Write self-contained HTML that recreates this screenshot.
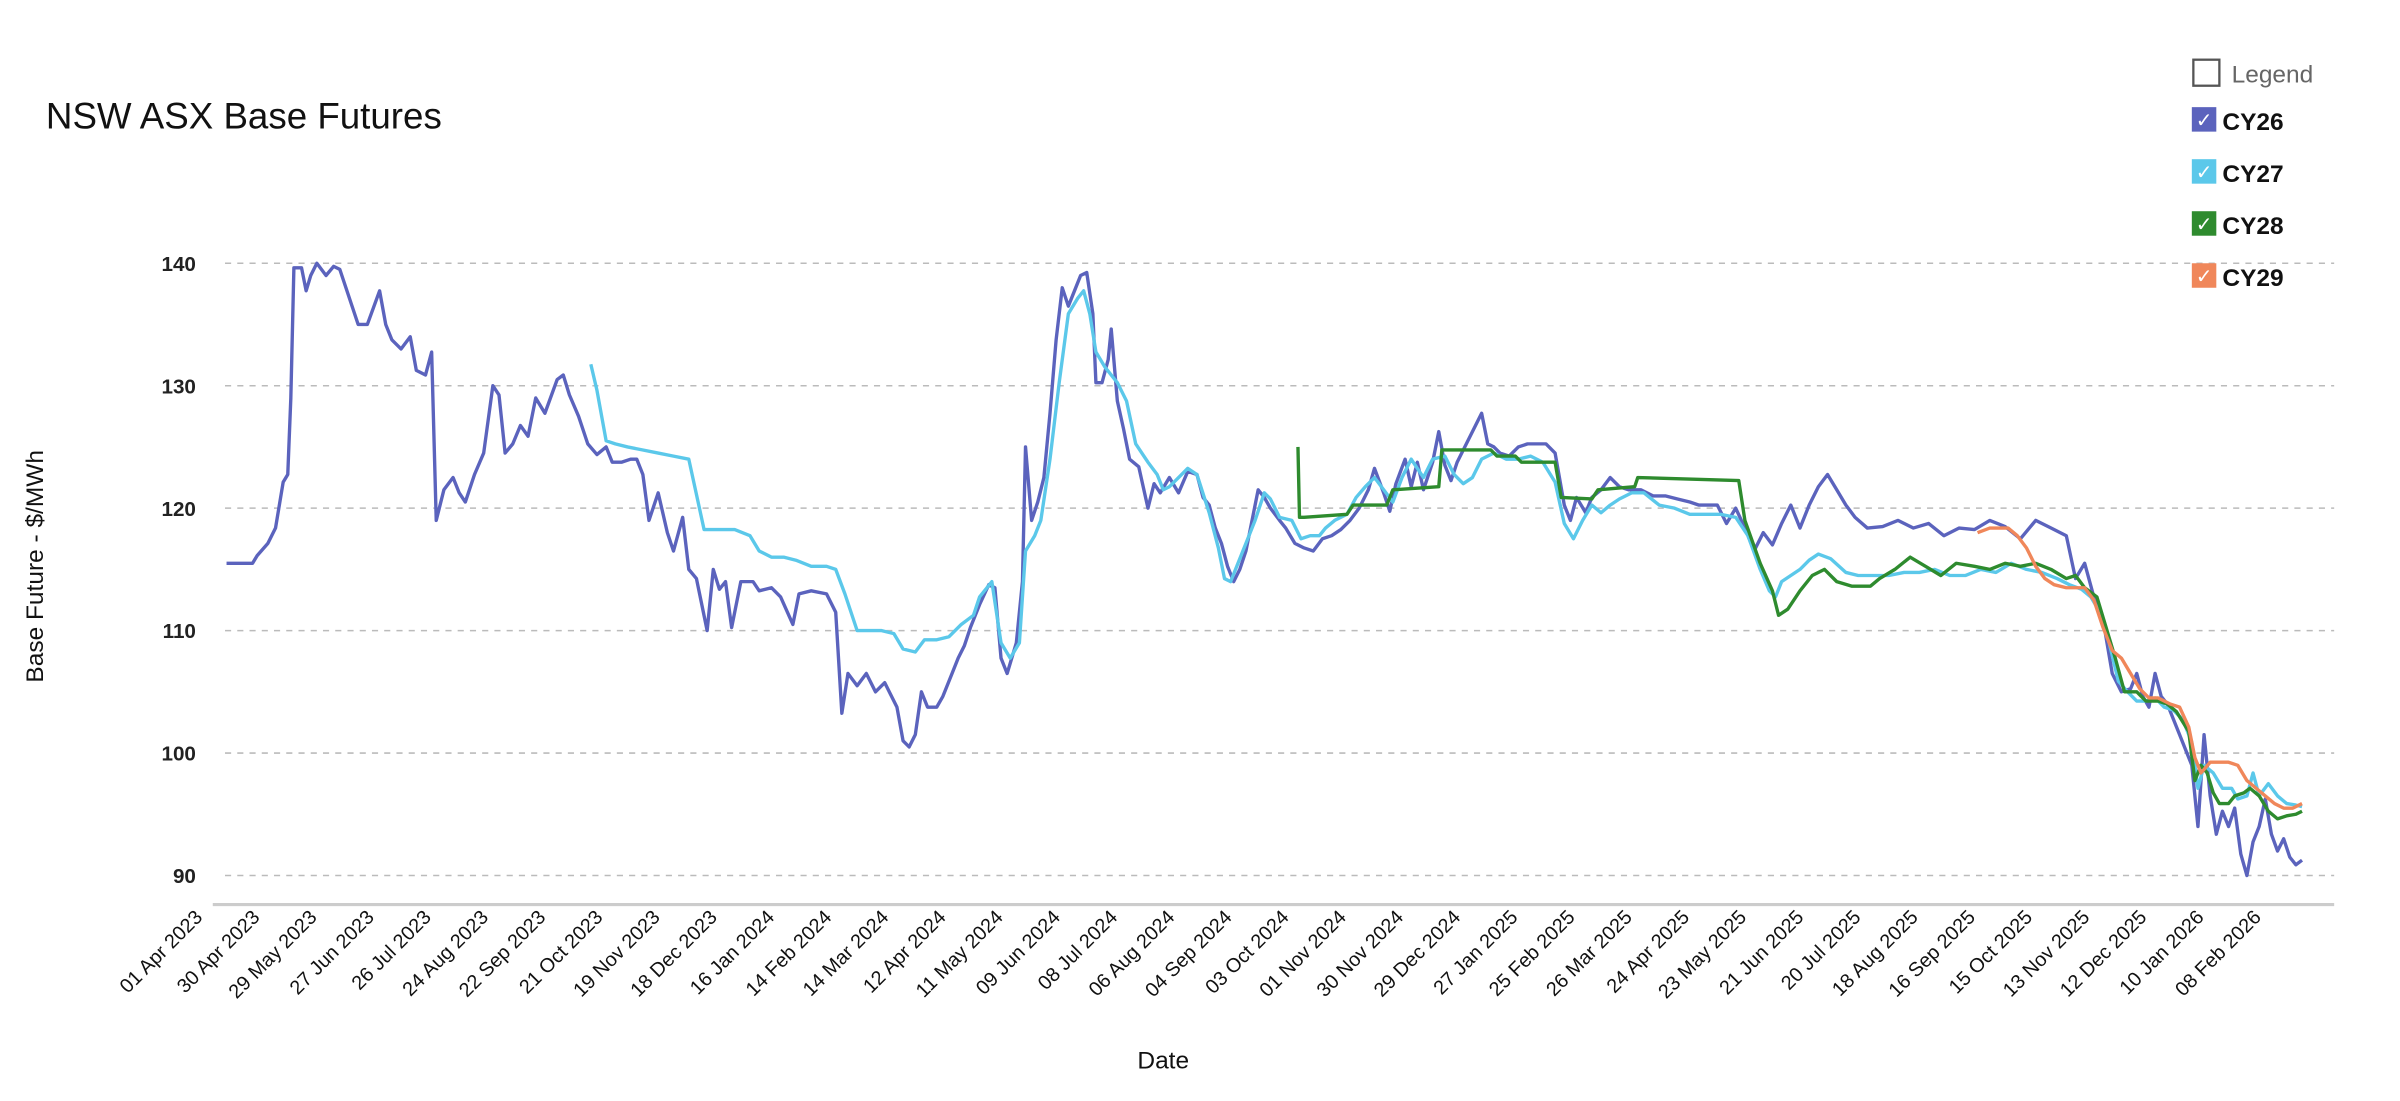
<!DOCTYPE html>
<html><head><meta charset="utf-8"><style>
html,body{margin:0;padding:0;background:#fff;}
svg{display:block;font-family:"Liberation Sans",sans-serif;}
</style></head><body>
<svg width="2400" height="1101" viewBox="0 0 1568 719.33" xmlns="http://www.w3.org/2000/svg">
<rect width="1568" height="720" fill="#fff"/>
<text x="30" y="84" font-size="24" fill="#111">NSW ASX Base Futures</text>
<g stroke="#bbb" stroke-width="1" stroke-dasharray="4,4">
<line x1="147" y1="172" x2="1525" y2="172"/><line x1="147" y1="252" x2="1525" y2="252"/>
<line x1="147" y1="332" x2="1525" y2="332"/><line x1="147" y1="412" x2="1525" y2="412"/>
<line x1="147" y1="492" x2="1525" y2="492"/><line x1="147" y1="572" x2="1525" y2="572"/>
</g>
<line x1="139" y1="591" x2="1525" y2="591" stroke="#ccc" stroke-width="2"/>
<g font-size="13.5" font-weight="bold" fill="#222" text-anchor="end">
<text x="128" y="177">140</text><text x="128" y="257">130</text><text x="128" y="337">120</text>
<text x="128" y="417">110</text><text x="128" y="497">100</text><text x="128" y="577">90</text>
</g>
<text transform="translate(28,370) rotate(-90)" font-size="16" text-anchor="middle" fill="#111">Base Future -  $/MWh</text>
<text x="760" y="698" font-size="16" text-anchor="middle" fill="#111">Date</text>
<g fill="none" stroke-width="2.2" stroke-linejoin="round">
<polyline stroke="#5b63bd" points="148,368 165,368 168,363 175,355 180,345 185,315 188,310 190,260 192,175 197,175 200,190 203,180 207,172 213,180 218,174 222,176 226,188 230,200 234,212 240,212 248,190 252,212 256,222 262,228 268,220 272,242 278,245 282,230 285,340 290,320 296,312 300,322 304,328 310,310 316,296 322,252 326,258 330,296 335,290 340,278 345,285 350,260 356,270 364,248 368,245 372,258 378,272 384,290 390,297 396,292 400,302 406,302 412,300 416,300 420,310 424,340 430,322 436,348 440,360 446,338 450,372 455,378 462,412 466,372 470,385 474,380 478,410 484,380 492,380 496,386 504,384 510,390 518,408 522,388 530,386 540,388 546,400 550,466 554,440 560,448 566,440 572,452 578,446 586,462 590,484 594,488 598,480 602,452 606,462 612,462 616,455 622,440 626,430 630,422 634,410 640,395 646,382 650,384 654,430 658,440 664,420 668,380 670,292 674,340 678,328 682,312 686,270 690,222 694,188 698,200 702,190 706,180 710,178 714,205 716,250 720,250 724,235 726,215 730,262 734,280 738,300 744,305 750,332 754,316 758,322 764,312 770,322 776,308 782,310 786,325 790,330 794,345 798,355 802,370 806,380 810,372 814,360 818,340 822,320 826,325 830,332 836,340 840,345 846,355 852,358 858,360 864,352 870,350 876,346 882,340 888,332 894,320 898,306 904,322 908,334 912,316 918,300 922,318 926,302 930,320 936,302 940,282 944,304 948,314 952,302 958,290 964,278 968,270 972,290 976,292 980,296 986,298 992,292 998,290 1004,290 1010,290 1016,296 1022,330 1026,340 1030,325 1036,335 1040,325 1046,320 1052,312 1058,318 1064,320 1072,320 1080,324 1088,324 1096,326 1104,328 1110,330 1116,330 1122,330 1128,342 1134,332 1140,345 1146,360 1152,348 1158,356 1164,342 1170,330 1176,345 1182,330 1188,318 1194,310 1200,320 1206,330 1212,338 1220,345 1230,344 1240,340 1250,345 1260,342 1270,350 1280,345 1290,346 1300,340 1310,344 1320,352 1330,340 1340,345 1350,350 1356,378 1362,368 1368,390 1374,405 1380,440 1386,452 1392,450 1396,440 1400,455 1404,462 1408,440 1412,455 1416,460 1420,470 1424,480 1428,490 1432,500 1436,540 1440,480 1444,520 1448,545 1452,530 1456,540 1460,528 1464,558 1468,572 1472,550 1476,540 1480,522 1484,545 1488,556 1492,548 1496,560 1500,565 1504,562"/>
<polyline stroke="#5bc8ea" points="386,238 390,255 396,288 402,290 410,292 420,294 430,296 440,298 450,300 460,346 470,346 480,346 490,350 496,360 504,364 512,364 520,366 530,370 540,370 546,372 552,388 560,412 568,412 576,412 584,414 590,424 598,426 604,418 612,418 620,416 628,408 636,402 640,390 648,380 654,420 660,430 666,420 670,360 676,350 680,340 686,300 692,250 698,205 704,195 708,190 712,205 716,230 722,240 730,250 736,262 742,290 750,302 756,310 760,320 764,318 770,312 776,306 782,310 790,335 796,358 800,378 804,380 808,370 814,355 820,340 826,322 830,326 836,338 844,340 850,352 856,350 862,350 866,345 872,340 880,336 886,325 892,318 898,312 904,320 910,328 916,312 922,300 930,312 936,300 944,298 950,310 956,316 962,312 968,300 976,296 984,300 992,300 1000,298 1008,302 1016,315 1022,342 1028,352 1034,340 1040,330 1046,335 1052,330 1058,326 1066,322 1074,322 1084,330 1094,332 1104,336 1114,336 1124,336 1134,338 1142,350 1150,372 1156,386 1160,390 1164,380 1170,376 1176,372 1182,366 1188,362 1196,365 1206,374 1214,376 1224,376 1234,376 1244,374 1254,374 1264,372 1274,376 1284,376 1294,372 1304,374 1314,368 1324,372 1334,374 1344,378 1352,382 1360,385 1366,390 1372,400 1378,420 1384,445 1390,452 1396,458 1402,458 1408,456 1414,462 1420,464 1426,470 1432,485 1436,515 1440,500 1446,505 1452,515 1458,515 1462,522 1468,520 1472,505 1476,520 1482,512 1488,520 1494,525 1500,526 1504,527"/>
<polyline stroke="#2e8b2e" points="848,292 849,338 852,338 880,336 884,330 906,330 910,320 940,318 942,294 974,294 978,298 990,298 994,302 1016,302 1020,325 1040,326 1044,320 1068,318 1070,312 1136,314 1140,340 1150,368 1158,386 1162,402 1168,398 1176,386 1184,376 1192,372 1200,380 1210,383 1222,383 1228,378 1238,372 1248,364 1258,370 1268,376 1278,368 1290,370 1300,372 1310,368 1320,370 1330,368 1340,372 1350,378 1356,376 1362,384 1370,390 1376,410 1382,430 1388,452 1396,452 1402,458 1410,458 1416,460 1422,465 1430,478 1434,510 1438,500 1442,505 1446,518 1450,525 1456,525 1460,520 1466,518 1470,515 1476,520 1482,530 1488,535 1494,533 1500,532 1504,530"/>
<polyline stroke="#f0875a" points="1292,348 1300,345 1312,345 1318,350 1324,358 1330,370 1336,378 1342,382 1350,384 1356,384 1362,384 1368,392 1374,410 1380,425 1386,430 1392,440 1398,450 1404,456 1410,456 1418,460 1424,462 1430,475 1434,495 1438,505 1444,498 1450,498 1456,498 1462,500 1468,510 1474,515 1480,520 1486,525 1492,528 1498,528 1504,525"/>
</g>
<g font-size="16">
<rect x="1433" y="39" width="17" height="17" fill="none" stroke="#555" stroke-width="1.5"/>
<text x="1458" y="54" fill="#666">Legend</text>
<rect x="1432" y="70" width="16" height="16" fill="#5b63bd"/><text x="1440" y="83" font-size="13" fill="#fff" text-anchor="middle">✓</text><text x="1452" y="85" fill="#111" font-weight="bold">CY26</text>
<rect x="1432" y="104" width="16" height="16" fill="#5bc8ea"/><text x="1440" y="117" font-size="13" fill="#fff" text-anchor="middle">✓</text><text x="1452" y="119" fill="#111" font-weight="bold">CY27</text>
<rect x="1432" y="138" width="16" height="16" fill="#2e8b2e"/><text x="1440" y="151" font-size="13" fill="#fff" text-anchor="middle">✓</text><text x="1452" y="153" fill="#111" font-weight="bold">CY28</text>
<rect x="1432" y="172" width="16" height="16" fill="#f0875a"/><text x="1440" y="185" font-size="13" fill="#fff" text-anchor="middle">✓</text><text x="1452" y="187" fill="#111" font-weight="bold">CY29</text>
</g>
<g font-size="13" fill="#111" text-anchor="end">
<text transform="translate(133,600) rotate(-45)">01 Apr 2023</text>
<text transform="translate(170.4,600) rotate(-45)">30 Apr 2023</text>
<text transform="translate(207.7,600) rotate(-45)">29 May 2023</text>
<text transform="translate(245.1,600) rotate(-45)">27 Jun 2023</text>
<text transform="translate(282.4,600) rotate(-45)">26 Jul 2023</text>
<text transform="translate(319.8,600) rotate(-45)">24 Aug 2023</text>
<text transform="translate(357.2,600) rotate(-45)">22 Sep 2023</text>
<text transform="translate(394.5,600) rotate(-45)">21 Oct 2023</text>
<text transform="translate(431.9,600) rotate(-45)">19 Nov 2023</text>
<text transform="translate(469.2,600) rotate(-45)">18 Dec 2023</text>
<text transform="translate(506.6,600) rotate(-45)">16 Jan 2024</text>
<text transform="translate(544,600) rotate(-45)">14 Feb 2024</text>
<text transform="translate(581.3,600) rotate(-45)">14 Mar 2024</text>
<text transform="translate(618.7,600) rotate(-45)">12 Apr 2024</text>
<text transform="translate(656,600) rotate(-45)">11 May 2024</text>
<text transform="translate(693.4,600) rotate(-45)">09 Jun 2024</text>
<text transform="translate(730.8,600) rotate(-45)">08 Jul 2024</text>
<text transform="translate(768.1,600) rotate(-45)">06 Aug 2024</text>
<text transform="translate(805.5,600) rotate(-45)">04 Sep 2024</text>
<text transform="translate(842.8,600) rotate(-45)">03 Oct 2024</text>
<text transform="translate(880.2,600) rotate(-45)">01 Nov 2024</text>
<text transform="translate(917.6,600) rotate(-45)">30 Nov 2024</text>
<text transform="translate(954.9,600) rotate(-45)">29 Dec 2024</text>
<text transform="translate(992.3,600) rotate(-45)">27 Jan 2025</text>
<text transform="translate(1029.6,600) rotate(-45)">25 Feb 2025</text>
<text transform="translate(1067,600) rotate(-45)">26 Mar 2025</text>
<text transform="translate(1104.4,600) rotate(-45)">24 Apr 2025</text>
<text transform="translate(1141.7,600) rotate(-45)">23 May 2025</text>
<text transform="translate(1179.1,600) rotate(-45)">21 Jun 2025</text>
<text transform="translate(1216.4,600) rotate(-45)">20 Jul 2025</text>
<text transform="translate(1253.8,600) rotate(-45)">18 Aug 2025</text>
<text transform="translate(1291.2,600) rotate(-45)">16 Sep 2025</text>
<text transform="translate(1328.5,600) rotate(-45)">15 Oct 2025</text>
<text transform="translate(1365.9,600) rotate(-45)">13 Nov 2025</text>
<text transform="translate(1403.2,600) rotate(-45)">12 Dec 2025</text>
<text transform="translate(1440.6,600) rotate(-45)">10 Jan 2026</text>
<text transform="translate(1478,600) rotate(-45)">08 Feb 2026</text>
</g>
</svg>
</body></html>
